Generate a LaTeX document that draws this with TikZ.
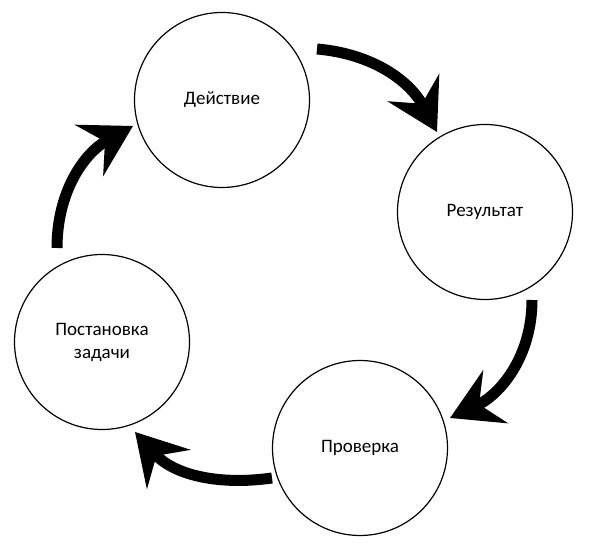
\documentclass[tikz,border=0pt]{standalone}
\usepackage{fontspec}
\setmainfont{Carlito}
\usetikzlibrary{arrows.meta,positioning}

\begin{document}
\begin{tikzpicture}[x=1pt, y=1pt,
    stage/.style={draw, circle, line width=1.2pt, minimum size=175pt, inner sep=0pt, align=center, font=\fontsize{19}{23}\selectfont},
    cycle/.style={line width=11pt, -{Stealth[length=50pt, width=58pt, inset=18pt]}}]
  \useasboundingbox (0,0) rectangle (591,556);

  % Stages
  \node[stage] (act) at (222,456) {Действие};
  \node[stage] (res) at (485,344) {Результат};
  \node[stage] (chk) at (360,108) {Проверка};
  \node[stage] (task) at (102,214) {Постановка\\задачи};

  % Arrow ends
  \coordinate (actout) at (317,507);
  \coordinate (resin) at (437,424);
  \coordinate (resout) at (532,256);
  \coordinate (chkin) at (450,138);
  \coordinate (chkout) at (272,78);
  \coordinate (taskin) at (135,124);
  \coordinate (taskout) at (57,308);
  \coordinate (actin) at (133,430);

  % Cycle arrows
  \draw[cycle] (actout) to[out=-5, in=118] (resin);
  \draw[cycle] (resout) to[out=-90, in=25] (chkin);
  \draw[cycle] (chkout) to[out=188, in=-48] (taskin);
  \draw[cycle] (taskout) to[out=90, in=209] (actin);
\end{tikzpicture}
\end{document}
